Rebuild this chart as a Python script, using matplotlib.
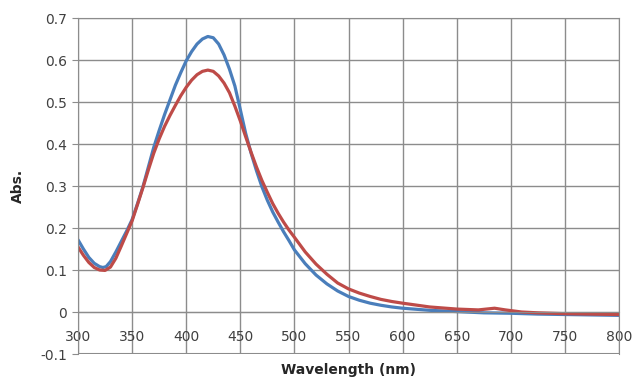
import matplotlib
matplotlib.use("Agg")
import matplotlib.pyplot as plt

# absorbance spectra
wl_blue = [300, 305, 310, 315, 320, 323, 326, 330, 335, 340, 345, 350, 355, 360,
           365, 370, 375, 380, 385, 390, 395, 400, 405, 410, 415, 420, 425, 430,
           435, 440, 445, 450, 455, 460, 465, 470, 475, 480, 485, 490, 495, 500,
           510, 520, 530, 540, 550, 560, 570, 580, 590, 600, 625, 650, 675, 700,
           725, 750, 775, 800]
abs_blue = [0.172, 0.150, 0.130, 0.116, 0.108, 0.106, 0.108, 0.120, 0.143, 0.168,
            0.193, 0.220, 0.258, 0.298, 0.345, 0.392, 0.432, 0.470, 0.505, 0.540,
            0.570, 0.598, 0.620, 0.638, 0.650, 0.656, 0.653, 0.638, 0.612, 0.578,
            0.538, 0.482, 0.425, 0.378, 0.336, 0.298, 0.266, 0.238, 0.214, 0.191,
            0.170, 0.148, 0.115, 0.088, 0.067, 0.050, 0.037, 0.028, 0.021, 0.016,
            0.012, 0.009, 0.004, 0.001, -0.002, -0.003, -0.005, -0.006, -0.007,
            -0.008]

wl_red = [300, 305, 310, 315, 320, 325, 330, 335, 340, 345, 350, 355, 360, 365,
          370, 375, 380, 385, 390, 395, 400, 405, 410, 415, 420, 425, 430, 435,
          440, 445, 450, 455, 460, 465, 470, 475, 480, 485, 490, 495, 500, 510,
          520, 530, 540, 550, 560, 570, 580, 590, 600, 625, 650, 670, 685, 695,
          710, 725, 750, 775, 800]
abs_red = [0.155, 0.135, 0.118, 0.106, 0.100, 0.099, 0.107, 0.128, 0.157, 0.187,
           0.217, 0.256, 0.296, 0.338, 0.378, 0.412, 0.442, 0.468, 0.492, 0.515,
           0.535, 0.552, 0.565, 0.573, 0.576, 0.573, 0.562, 0.545, 0.522, 0.490,
           0.455, 0.417, 0.380, 0.345, 0.313, 0.285, 0.258, 0.235, 0.214, 0.195,
           0.178, 0.143, 0.114, 0.090, 0.069, 0.055, 0.045, 0.037, 0.030, 0.025,
           0.021, 0.012, 0.007, 0.005, 0.009, 0.005, 0.000, -0.002, -0.004,
           -0.005, -0.006]

xticks = list(range(300, 801, 50))
yticks = [-0.1, 0, 0.1, 0.2, 0.3, 0.4, 0.5, 0.6, 0.7]

grid_c = "#8c8c8c"
text_c = "#404040"

fig = plt.figure(figsize=(6.36, 3.79), dpi=100)
ax = fig.add_axes([78 / 636, 1 - 354 / 379, (619 - 78) / 636, (354 - 18) / 379])

ax.plot(wl_blue, abs_blue, color="#4a7ebb", lw=2.3, solid_capstyle="round")
ax.plot(wl_red, abs_red, color="#be4b48", lw=2.3, solid_capstyle="round")

ax.set_xlim(300, 800)
ax.set_ylim(-0.1, 0.7)
ax.set_xticks(xticks)
ax.set_yticks(yticks)
ax.set_yticklabels(["-0.1", "0", "0.1", "0.2", "0.3", "0.4", "0.5", "0.6", "0.7"])

ax.grid(True, color=grid_c, lw=1)
ax.set_axisbelow(True)
for s in ["top", "right", "left", "bottom"]:
    ax.spines[s].set_color(grid_c)
ax.spines["bottom"].set_position(("data", 0))
# bottom border at -0.1
ax.axhline(-0.1, color=grid_c, lw=1.5, zorder=0.5)

ax.tick_params(axis="y", length=4, color=grid_c, pad=4, labelsize=10, labelcolor=text_c)
ax.tick_params(axis="x", length=0, pad=13, labelsize=10, labelcolor=text_c)

ax.set_xlabel("Wavelength (nm)", fontsize=10, fontweight="bold", color="#262626")
ax.xaxis.set_label_coords(0.5, -0.026)
ax.set_ylabel("Abs.", fontsize=10, fontweight="bold", color="#262626")
ax.yaxis.set_label_coords(-0.098, 0.5)

fig.savefig("out.png", dpi=100)
